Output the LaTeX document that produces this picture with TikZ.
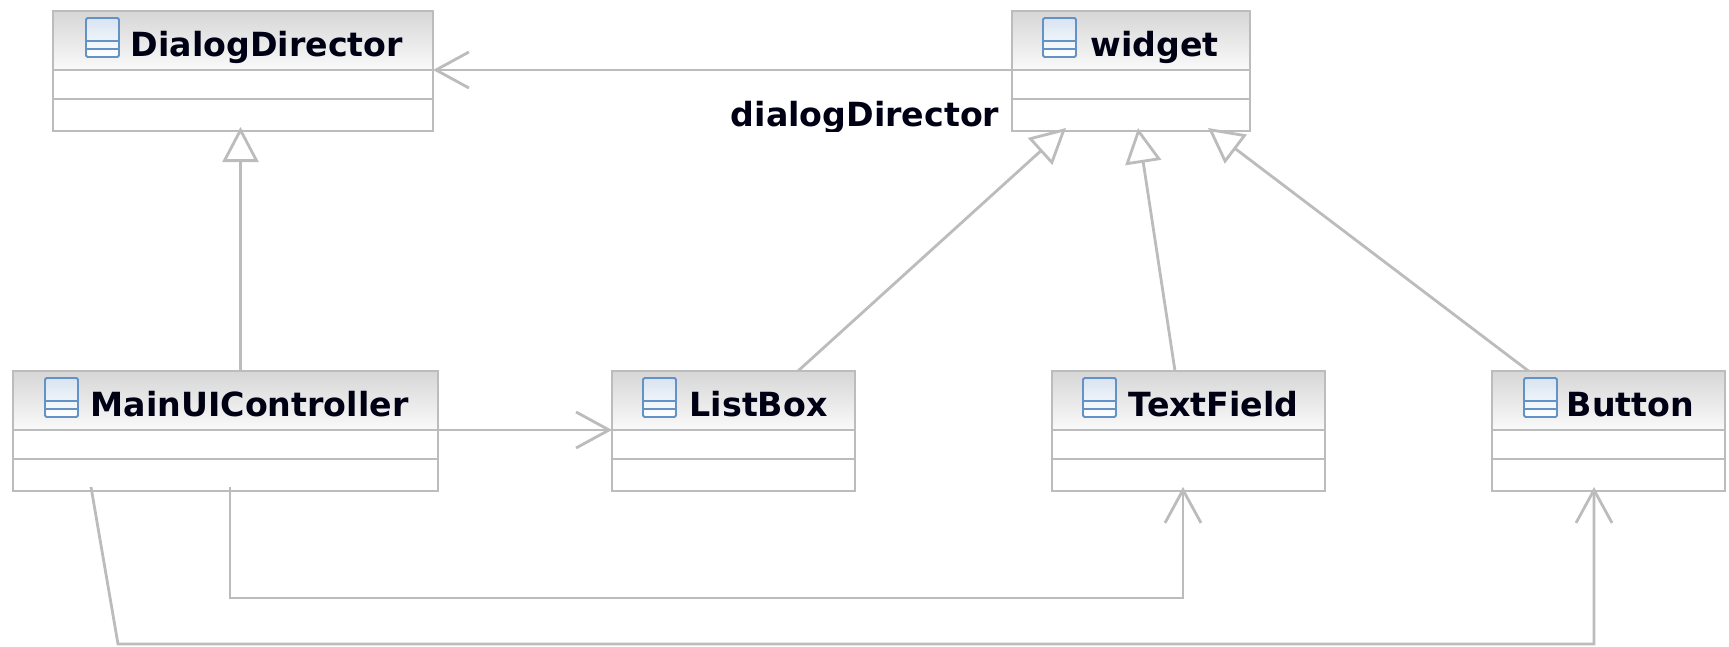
\documentclass[tikz,border=0pt]{standalone}
\usepackage{fontspec}
\usepackage{tikz}
\usepackage{color}
\usetikzlibrary{arrows.meta}
\setmainfont{DejaVu Sans}
\definecolor{umlgray}{RGB}{188,188,188}
\definecolor{iconblue}{RGB}{98,146,198}
\tikzset{
classbox/.style={draw=umlgray, line width=0.8pt, fill=white, inner sep=0, outer sep=0, minimum height=1.2cm},
classhead/.style={draw=umlgray, line width=0.8pt, top color=black!16, bottom color=black!2, inner sep=0, outer sep=0, minimum height=0.59cm, anchor=north},
classtitle/.style={font=\fontsize{9.46}{11}\selectfont\bfseries, inner sep=0, anchor=base west, text=black!92!blue},
gen/.style={umlgray, line width=0.8pt, -{Triangle[length=0.35cm,width=0.36cm,fill=white]}},
assoc/.style={umlgray, line width=0.8pt, -{Straight Barb[length=0.33cm,width=0.36cm]}},
classicon/.pic={
\draw[iconblue, line width=0.55pt, rounded corners=0.4pt, top color=iconblue!25, bottom color=white] (0,0) rectangle (0.33,0.39);
\draw[iconblue, line width=0.55pt] (0,0.08) -- (0.33,0.08);
\draw[iconblue, line width=0.55pt] (0,0.16) -- (0.33,0.16);
}
}
\begin{document}
\begin{tikzpicture}
\useasboundingbox (0,0) rectangle (17.29,6.46);

\foreach \id/\x/\y/\w/\classname/\ix/\tx in {
dialog/2.43/5.75/3.80/DialogDirector/0.86/1.30,
widget/11.31/5.75/2.38/widget/10.43/10.90,
main/2.255/2.15/4.25/MainUIController/0.45/0.90,
listbox/7.335/2.15/2.43/ListBox/6.43/6.89,
textfield/11.885/2.15/2.73/TextField/10.83/11.28,
button/16.085/2.15/2.33/Button/15.24/15.66}{
\node[classbox, minimum width=\w cm] (\id) at (\x,\y) {};
\node[classhead, minimum width=\w cm] (\id-head) at (\id.north) {};
\draw[umlgray, line width=0.8pt] ([yshift=-0.29cm]\id-head.south west) -- ([yshift=-0.29cm]\id-head.south east);
\pic at (\ix,\y+0.14) {classicon};
\node[classtitle] (\id-title) at (\tx,\y+0.145) {\classname};
}

\begin{scope}
\clip (7.00,5.15) rectangle (10.02,5.50);
\node[classtitle, anchor=base east] (rolename) at (10.00,5.20) {dialogDirector};
\end{scope}

\coordinate (lowbend) at (2.30,0.48);
\coordinate (outerbend) at (1.18,0.02);

\draw[assoc] (widget-head.south west) -- (dialog-head.south east);
\draw[assoc] (main-head.south east) -- (listbox-head.south west);

\draw[gen] ([xshift=0.15cm]main.north) -- ([xshift=-0.025cm,yshift=0.04cm]dialog.south);
\draw[gen] ([xshift=0.645cm]listbox.north) -- ([xshift=-0.65cm,yshift=0.03cm]widget.south);
\draw[gen] ([xshift=-0.135cm]textfield.north) -- ([xshift=0.07cm,yshift=0.03cm]widget.south);
\draw[gen] ([xshift=-0.80cm]button.north) -- ([xshift=0.77cm,yshift=0.03cm]widget.south);

\draw[assoc] ([xshift=0.045cm,yshift=0.04cm]main.south) -- (lowbend) -| ([xshift=-0.055cm,yshift=0.04cm]textfield.south);
\draw[assoc] ([xshift=-1.345cm,yshift=0.04cm]main.south) -- (outerbend) -| ([xshift=-0.145cm,yshift=0.04cm]button.south);
\end{tikzpicture}
\end{document}
